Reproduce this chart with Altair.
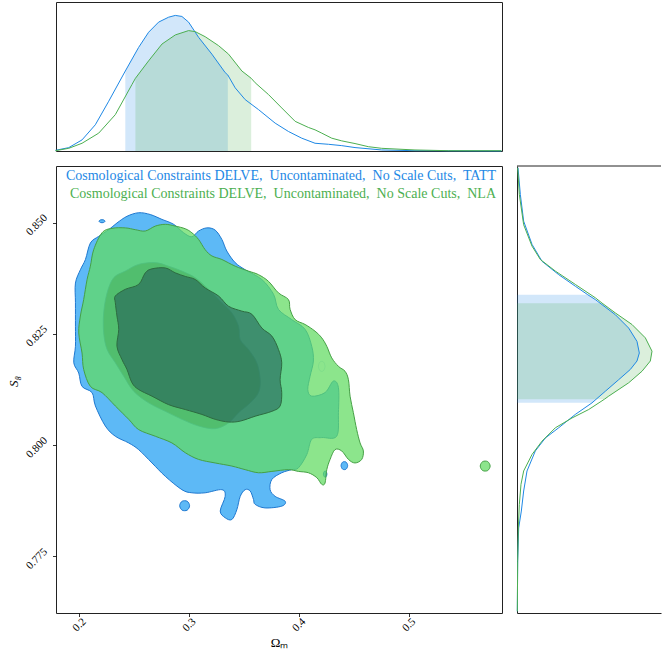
import altair as alt
import pandas as pd

FONT = "Liberation Serif"
BLUE = "#1E88E5"
GREEN = "#4CAF50"

OM_DOMAIN = [0.179, 0.585]
S8_DOMAIN = [0.7623, 0.8627]
OM_TICKS = [0.2, 0.3, 0.4, 0.5]
S8_TICKS = [0.775, 0.800, 0.825, 0.850]

LEGEND_TATT = "Cosmological Constraints DELVE,\u00a0 Uncontaminated,\u00a0 No Scale Cuts,\u00a0 TATT"
LEGEND_NLA = "Cosmological Constraints DELVE,\u00a0 Uncontaminated,\u00a0 No Scale Cuts,\u00a0 NLA"

# ---- 2D credible-region outlines, (Omega_m, S8) ----
TATT_OUTER = [
    (0.2345, 0.8499), (0.2436, 0.8514), (0.2542, 0.8522), (0.2648, 0.8518),
    (0.2755, 0.8507), (0.2861, 0.8496), (0.2952, 0.8477), (0.3027, 0.8468),
    (0.3088, 0.8481), (0.3164, 0.8488), (0.3239, 0.8483), (0.3300, 0.8462),
    (0.3345, 0.8436), (0.3421, 0.8410), (0.3512, 0.8394), (0.3664, 0.8372),
    (0.3770, 0.8339), (0.3815, 0.8305), (0.3936, 0.8282), (0.4058, 0.8260),
    (0.4118, 0.8222), (0.4133, 0.8189), (0.4103, 0.8155), (0.4082, 0.8125),
    (0.4118, 0.8110), (0.4239, 0.8118), (0.4315, 0.8144), (0.4361, 0.8129),
    (0.4361, 0.8073), (0.4345, 0.8020), (0.4209, 0.8017), (0.4118, 0.8013),
    (0.4073, 0.7979), (0.3997, 0.7949), (0.3936, 0.7945), (0.3845, 0.7938),
    (0.3755, 0.7923), (0.3739, 0.7900), (0.3785, 0.7885), (0.3876, 0.7874),
    (0.3845, 0.7863), (0.3694, 0.7859), (0.3603, 0.7867), (0.3588, 0.7878),
    (0.3558, 0.7897), (0.3512, 0.7900), (0.3467, 0.7885), (0.3436, 0.7855),
    (0.3391, 0.7833), (0.3330, 0.7837), (0.3285, 0.7852), (0.3330, 0.7885),
    (0.3300, 0.7900), (0.3148, 0.7893), (0.3027, 0.7893), (0.2936, 0.7900),
    (0.2785, 0.7930), (0.2664, 0.7960), (0.2542, 0.7990), (0.2452, 0.8005),
    (0.2330, 0.8020), (0.2239, 0.8043), (0.2149, 0.8088), (0.2118, 0.8118),
    (0.2027, 0.8132), (0.1997, 0.8162), (0.1952, 0.8185), (0.1967, 0.8222),
    (0.1967, 0.8267), (0.1967, 0.8320), (0.1967, 0.8364), (0.2012, 0.8394),
    (0.2058, 0.8417), (0.2103, 0.8454), (0.2179, 0.8469), (0.2270, 0.8484),
]
TATT_ISLANDS = [
    [(0.3006, 0.7864), (0.2984, 0.7874), (0.2938, 0.7874), (0.2916, 0.7864), (0.2938, 0.7854), (0.2984, 0.7854)],
    [(0.4445, 0.7954), (0.4430, 0.7962), (0.4400, 0.7962), (0.4385, 0.7954), (0.4400, 0.7946), (0.4430, 0.7946)],
    [(0.4256, 0.7935), (0.4248, 0.7941), (0.4232, 0.7941), (0.4224, 0.7935), (0.4232, 0.7929), (0.4248, 0.7929)],
    [(0.2236, 0.8503), (0.2222, 0.8506), (0.2196, 0.8506), (0.2182, 0.8503), (0.2196, 0.8500), (0.2222, 0.8500)],
]
TATT_INNER = [
    (0.2255, 0.8342), (0.2315, 0.8376), (0.2421, 0.8391), (0.2542, 0.8406),
    (0.2694, 0.8410), (0.2815, 0.8402), (0.2936, 0.8391), (0.3058, 0.8376),
    (0.3179, 0.8350), (0.3300, 0.8320), (0.3391, 0.8297), (0.3452, 0.8267),
    (0.3467, 0.8237), (0.3542, 0.8215), (0.3618, 0.8185), (0.3649, 0.8147),
    (0.3633, 0.8118), (0.3558, 0.8095), (0.3452, 0.8073), (0.3361, 0.8050),
    (0.3239, 0.8037), (0.3088, 0.8043), (0.2936, 0.8058), (0.2785, 0.8076),
    (0.2633, 0.8095), (0.2497, 0.8121), (0.2406, 0.8155), (0.2330, 0.8185),
    (0.2255, 0.8215), (0.2224, 0.8252), (0.2224, 0.8297),
]
# small gap inside the TATT outer region
TATT_GAP = [(0.4239, 0.8177), (0.4224, 0.8187), (0.4194, 0.8187), (0.4179, 0.8177), (0.4194, 0.8167), (0.4224, 0.8167)]

NLA_OUTER = [
    (0.2209, 0.8477), (0.2300, 0.8487), (0.2421, 0.8488), (0.2512, 0.8484),
    (0.2603, 0.8481), (0.2694, 0.8492), (0.2785, 0.8496), (0.2876, 0.8492),
    (0.2967, 0.8486), (0.3027, 0.8477), (0.3088, 0.8462), (0.3148, 0.8439),
    (0.3209, 0.8425), (0.3300, 0.8417), (0.3421, 0.8402), (0.3542, 0.8391),
    (0.3633, 0.8383), (0.3724, 0.8368), (0.3815, 0.8342), (0.3906, 0.8327),
    (0.3921, 0.8305), (0.3967, 0.8282), (0.4058, 0.8271), (0.4148, 0.8256),
    (0.4209, 0.8241), (0.4255, 0.8222), (0.4300, 0.8196), (0.4361, 0.8177),
    (0.4421, 0.8166), (0.4452, 0.8147), (0.4467, 0.8110), (0.4497, 0.8073),
    (0.4527, 0.8035), (0.4558, 0.8005), (0.4588, 0.7987), (0.4573, 0.7968),
    (0.4512, 0.7960), (0.4452, 0.7968), (0.4391, 0.7987), (0.4330, 0.7990),
    (0.4285, 0.7968), (0.4255, 0.7945), (0.4239, 0.7915), (0.4209, 0.7912),
    (0.4164, 0.7927), (0.4088, 0.7938), (0.3997, 0.7941), (0.3906, 0.7945),
    (0.3755, 0.7941), (0.3633, 0.7938), (0.3512, 0.7945), (0.3391, 0.7953),
    (0.3239, 0.7960), (0.3088, 0.7968), (0.2967, 0.7983), (0.2845, 0.8005),
    (0.2694, 0.8020), (0.2542, 0.8035), (0.2452, 0.8058), (0.2330, 0.8088),
    (0.2209, 0.8118), (0.2103, 0.8132), (0.2042, 0.8170), (0.2027, 0.8207),
    (0.1997, 0.8252), (0.2012, 0.8290), (0.2042, 0.8327), (0.2073, 0.8372),
    (0.2103, 0.8402), (0.2133, 0.8439),
]
NLA_ISLANDS = [
    [(0.5742, 0.7953), (0.5720, 0.7963), (0.5674, 0.7963), (0.5652, 0.7953), (0.5674, 0.7943), (0.5720, 0.7943)],
]
NLA_INNER = [
    (0.2330, 0.8320), (0.2330, 0.8335), (0.2421, 0.8350), (0.2542, 0.8361),
    (0.2603, 0.8387), (0.2664, 0.8396), (0.2785, 0.8398), (0.2876, 0.8387),
    (0.2967, 0.8379), (0.3058, 0.8372), (0.3148, 0.8353), (0.3270, 0.8335),
    (0.3361, 0.8312), (0.3482, 0.8301), (0.3573, 0.8294), (0.3664, 0.8263),
    (0.3755, 0.8245), (0.3815, 0.8215), (0.3845, 0.8185), (0.3830, 0.8147),
    (0.3845, 0.8118), (0.3830, 0.8088), (0.3755, 0.8076), (0.3603, 0.8065),
    (0.3467, 0.8054), (0.3361, 0.8052), (0.3239, 0.8058), (0.3118, 0.8069),
    (0.2967, 0.8080), (0.2815, 0.8091), (0.2664, 0.8110), (0.2542, 0.8125),
    (0.2482, 0.8140), (0.2436, 0.8170), (0.2391, 0.8192), (0.2345, 0.8222),
    (0.2361, 0.8260), (0.2345, 0.8290),
]

# ---- 1D marginal of Omega_m (normalised density) ----
TATT_OM = [0.1785, 0.1906, 0.2027, 0.2148, 0.2270, 0.2421, 0.2542, 0.2633, 0.2724,
           0.2815, 0.2876, 0.2936, 0.2997, 0.3088, 0.3209, 0.3330, 0.3354, 0.3421,
           0.3512, 0.3633, 0.3785, 0.3906, 0.4027, 0.4148, 0.4270, 0.4391, 0.4512,
           0.4755, 0.5058, 0.5845]
TATT_OM_PDF = [0.0045, 0.0226, 0.0745, 0.176, 0.334, 0.537, 0.695, 0.797, 0.865,
               0.898, 0.910, 0.903, 0.865, 0.763, 0.650, 0.526, 0.510, 0.424,
               0.345, 0.278, 0.187, 0.131, 0.086, 0.052, 0.045, 0.036, 0.023,
               0.007, 0.002, 0.0]
NLA_OM = [0.1785, 0.1906, 0.2027, 0.2179, 0.2330, 0.2482, 0.2513, 0.2633, 0.2755,
          0.2876, 0.2997, 0.3058, 0.3148, 0.3270, 0.3361, 0.3482, 0.3567, 0.3603,
          0.3724, 0.3845, 0.3967, 0.4088, 0.4148, 0.4209, 0.4300, 0.4391, 0.4512,
          0.4633, 0.4755, 0.5058, 0.5361, 0.5845]
NLA_OM_PDF = [0.002, 0.018, 0.052, 0.120, 0.244, 0.447, 0.488, 0.605, 0.718,
              0.779, 0.808, 0.801, 0.767, 0.707, 0.650, 0.537, 0.488, 0.458,
              0.379, 0.289, 0.199, 0.158, 0.142, 0.120, 0.086, 0.068, 0.050,
              0.029, 0.018, 0.007, 0.002, 0.002]
TATT_OM_INTERVAL = [0.2421, 0.3354]
NLA_OM_INTERVAL = [0.2513, 0.3567]

# ---- 1D marginal of S8 (normalised density) ----
TATT_S8 = [0.8623, 0.8563, 0.8503, 0.8451, 0.8413, 0.8383, 0.8357, 0.8338, 0.8327,
           0.8293, 0.8263, 0.8233, 0.8207, 0.8189, 0.8170, 0.8147, 0.8121, 0.8095,
           0.8069, 0.8039, 0.8016, 0.7987, 0.7942, 0.7897, 0.7852, 0.7814, 0.7739,
           0.7627]
TATT_S8_PDF = [0.0068, 0.0225, 0.0450, 0.1014, 0.1689, 0.2815, 0.3941, 0.4775, 0.5293,
               0.6644, 0.7545, 0.8108, 0.8266, 0.8108, 0.7658, 0.6869, 0.5968, 0.5068,
               0.3941, 0.2815, 0.1914, 0.1239, 0.0676, 0.0450, 0.0293, 0.0113, 0.0045,
               0.0023]
NLA_S8 = [0.8623, 0.8563, 0.8495, 0.8447, 0.8417, 0.8391, 0.8361, 0.8331, 0.8319,
          0.8297, 0.8271, 0.8241, 0.8211, 0.8189, 0.8166, 0.8140, 0.8110, 0.8103,
          0.8080, 0.8061, 0.8039, 0.8009, 0.7979, 0.7942, 0.7912, 0.7867, 0.7814,
          0.7739, 0.7627]
NLA_S8_PDF = [0.0045, 0.0158, 0.0450, 0.1014, 0.1577, 0.2590, 0.3941, 0.5293, 0.575,
              0.6644, 0.7770, 0.8671, 0.9122, 0.9009, 0.8446, 0.7545, 0.6194, 0.590,
              0.4842, 0.3716, 0.2590, 0.1689, 0.1014, 0.0450, 0.0270, 0.0158, 0.0090,
              0.0045, 0.0023]
TATT_S8_INTERVAL = [0.8095, 0.8338]
NLA_S8_INTERVAL = [0.8103, 0.8319]

MAIN_W, MAIN_H = 446, 447
SIDE = 149
RIGHT_W = 144


def outline_frame(parts):
    rows = []
    for k, pts in enumerate(parts):
        for i, (om, s8) in enumerate(pts):
            rows.append({"part": k, "i": i, "om": om, "s8": s8})
    return pd.DataFrame(rows)


om_scale = alt.Scale(domain=OM_DOMAIN, nice=False, zero=False)
s8_scale = alt.Scale(domain=S8_DOMAIN, nice=False, zero=False)

x_main = alt.X(
    "om:Q", scale=om_scale,
    axis=alt.Axis(values=OM_TICKS, format=".1f", title="Ωₘ", labelAngle=315,
                  labelAlign="center", labelBaseline="middle", labelPadding=8,
                  tickSize=3.5, tickColor="#000", tickWidth=0.8, domain=False,
                  labelFontSize=11, labelColor="#000", titleFontSize=13,
                  titleColor="#000", titleFontWeight="normal", titleX=MAIN_W / 2,
                  titleY=29, titleAlign="center", titleBaseline="middle"),
)
y_main = alt.Y(
    "s8:Q", scale=s8_scale,
    axis=alt.Axis(values=S8_TICKS, format=".3f", title="S₈", labelAngle=315,
                  labelAlign="center", labelBaseline="middle", labelPadding=16,
                  labelOffset=2, tickSize=3.5, tickColor="#000", tickWidth=0.8,
                  domain=False, labelFontSize=11, labelColor="#000",
                  titleFontSize=13, titleColor="#000", titleFontWeight="normal",
                  titleFontStyle="italic", titleAngle=270, titleX=-43, titleY=215,
                  titleAlign="center", titleBaseline="middle"),
)


def region(parts, fill, stroke, fill_opacity=1.0, stroke_width=1.0, stroke_opacity=1.0):
    return alt.Chart(outline_frame(parts)).mark_line(
        interpolate="cardinal-closed", fill=fill, fillOpacity=fill_opacity,
        stroke=stroke, strokeWidth=stroke_width, strokeOpacity=stroke_opacity,
    ).encode(x=x_main, y=y_main, detail="part:N", order="i:Q")


legend_rows = pd.DataFrame({"label": [LEGEND_TATT, LEGEND_NLA]})
legend_tatt = alt.Chart(legend_rows.iloc[[0]]).mark_text(
    font=FONT, fontSize=14, color=BLUE, align="right", baseline="middle"
).encode(text="label:N", x=alt.value(MAIN_W - 6), y=alt.value(10))
legend_nla = alt.Chart(legend_rows.iloc[[1]]).mark_text(
    font=FONT, fontSize=14, color=GREEN, align="right", baseline="middle"
).encode(text="label:N", x=alt.value(MAIN_W - 6), y=alt.value(28))

main = alt.layer(
    region([TATT_OUTER] + TATT_ISLANDS, "#5DB9F6", "#1E78D0"),
    region([TATT_INNER], "#286E90", "#1E78D0", stroke_width=0.8),
    region([TATT_GAP], "#FFFFFF", "#1E78D0", stroke_width=0.5, stroke_opacity=0.4),
    region([NLA_OUTER] + NLA_ISLANDS, "#61DC61", "#45A045", fill_opacity=0.73),
    region([NLA_INNER], "#1C4B52", "#2D6B40", fill_opacity=0.5),
    legend_tatt,
    legend_nla,
).properties(width=MAIN_W, height=MAIN_H)

# ---- top marginal ----
top_tatt = pd.DataFrame({"om": TATT_OM, "pdf": TATT_OM_PDF})
top_nla = pd.DataFrame({"om": NLA_OM, "pdf": NLA_OM_PDF})
x_top = alt.X("om:Q", scale=om_scale, axis=None)
y_top = alt.Y("pdf:Q", scale=alt.Scale(domain=[0, 1], nice=False), axis=None)


def band_top(df, interval, color, opacity):
    return alt.Chart(df).transform_filter(
        alt.FieldRangePredicate(field="om", range=interval)
    ).mark_area(color=color, opacity=opacity).encode(x=x_top, y=y_top)


top = alt.layer(
    band_top(top_tatt, TATT_OM_INTERVAL, BLUE, 0.2),
    band_top(top_nla, NLA_OM_INTERVAL, GREEN, 0.2),
    alt.Chart(top_tatt).mark_line(color=BLUE, strokeWidth=1).encode(x=x_top, y=y_top),
    alt.Chart(top_nla).mark_line(color=GREEN, strokeWidth=1).encode(x=x_top, y=y_top),
).properties(width=MAIN_W, height=SIDE)

# ---- right marginal ----
r_tatt = pd.DataFrame({"s8": TATT_S8, "pdf": TATT_S8_PDF})
r_nla = pd.DataFrame({"s8": NLA_S8, "pdf": NLA_S8_PDF})
frame_axis = dict(labels=False, ticks=False, title=None, domainColor="#222",
                  domainWidth=1, grid=False)
pdf_scale = alt.Scale(domain=[0, RIGHT_W / 148], nice=False)
x_r = alt.X("pdf:Q", scale=pdf_scale, axis=alt.Axis(**frame_axis))
y_r = alt.Y("s8:Q", scale=s8_scale, axis=alt.Axis(**frame_axis))


def band_right(df, interval, color, opacity):
    return alt.Chart(df).transform_filter(
        alt.FieldRangePredicate(field="s8", range=interval)
    ).mark_area(color=color, opacity=opacity, orient="horizontal").encode(
        x=alt.X("pdf:Q", scale=pdf_scale, axis=alt.Axis(**frame_axis), stack=None),
        y=y_r,
    )


top_edge = alt.Chart(pd.DataFrame({"k": [0]})).mark_rule(color="#222", strokeWidth=1).encode(
    x=alt.value(0), x2=alt.value(RIGHT_W), y=alt.value(0))

right = alt.layer(
    band_right(r_tatt, TATT_S8_INTERVAL, BLUE, 0.2),
    band_right(r_nla, NLA_S8_INTERVAL, GREEN, 0.2),
    alt.Chart(r_tatt).mark_line(color=BLUE, strokeWidth=1).encode(x=x_r, y=y_r, order="s8:Q"),
    alt.Chart(r_nla).mark_line(color=GREEN, strokeWidth=1).encode(x=x_r, y=y_r, order="s8:Q"),
    top_edge,
).properties(width=RIGHT_W, height=MAIN_H, view=alt.ViewBackground(stroke=None))

blank = alt.Chart(pd.DataFrame({"k": [0]})).mark_point(opacity=0, size=1).encode(
    x=alt.value(40), y=alt.value(40)
).properties(width=RIGHT_W, height=SIDE, view=alt.ViewBackground(stroke=None))

chart = alt.concat(
    top, blank, main, right, columns=2, spacing=15, bounds="flush"
).properties(
    padding={"left": 6, "top": 1, "right": 0, "bottom": 0}
).configure_view(
    stroke="#222", strokeWidth=1
).configure_axis(
    labelFont=FONT, titleFont=FONT, grid=False
)

chart.save("out.html", embed_options={"renderer": "svg", "actions": False})
